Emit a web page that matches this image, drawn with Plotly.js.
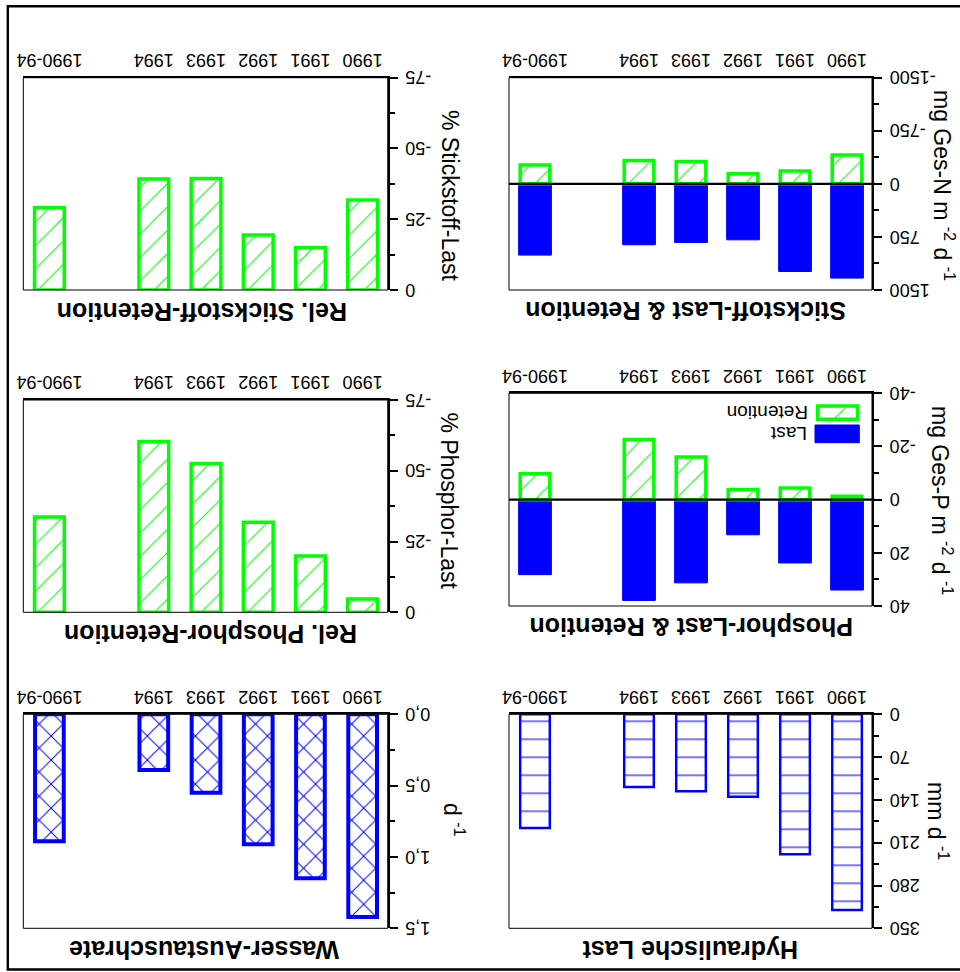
<!DOCTYPE html>
<html><head><meta charset="utf-8">
<script src="https://cdn.plot.ly/plotly-3.0.1.min.js"></script>
<style>
html,body{margin:0;padding:0;background:#fff;overflow:hidden;}
#wrap{width:960px;height:972px;transform:rotate(180deg);transform-origin:50% 50%;}
#chart{width:960px;height:972px;}
</style></head><body>
<div id="wrap"><div id="chart"></div></div>
<script>
// ---------- data ----------
const categories = ['1990','1991','1992','1993','1994','','1990-94'];
const hydraulLast = [320, 229, 135, 126, 119, null, 186];
const wasserRate = [1.42, 1.15, 0.91, 0.55, 0.39, null, 0.89];
const phosphorLast = [34, 23.8, 13.2, 31.3, 37.9, null, 28.2];
const phosphorRet = [-1.3, -4.4, -3.8, -16, -22.6, null, -9.7];
const relPhosphorRet = [-4.7, -19.9, -31.8, -52.6, -60.3, null, -33.7];
const stickstoffLast = [1332, 1238, 791, 829, 861, null, 1007];
const stickstoffRet = [-409, -183, -141, -315, -329, null, -268];
const relStickstoffRet = [-31.8, -14.9, -19.4, -39.4, -39.2, null, -29.1];

const hydTicks = [0, 70, 140, 210, 280, 350];
const hydTickText = ['0', '70', '140', '210', '280', '350'];
const wasTicks = [0, 0.5, 1.0, 1.5];
const wasTickText = ['0,0', '0,5', '1,0', '1,5'];
const pTicks = [-40, -20, 0, 20, 40];
const pTickText = ['-40', '-20', '0', '20', '40'];
const relTicks = [-75, -50, -25, 0];
const relTickText = ['-75', '-50', '-25', '0'];
const nTicks = [-1500, -750, 0, 750, 1500];
const nTickText = ['-1500', '-750', '0', '750', '1500'];

const titles = ['Hydraulische Last', 'Wasser-Austauschrate', 'Phosphor-Last & Retention',
  'Rel. Phosphor-Retention', 'Stickstoff-Last & Retention', 'Rel. Stickstoff-Retention'];
const yTitles = ['mm d <sup>-1</sup>', 'd <sup>-1</sup>', 'mg Ges-P m <sup>-2</sup> d <sup>-1</sup>',
  '% Phosphor-Last', 'mg Ges-N m <sup>-2</sup> d <sup>-1</sup>', '% Stickstoff-Last'];
const legendLabels = ['Last', 'Retention'];

// ---------- layout helpers ----------
const W = 960, H = 972;
const px = u => u / W;
const py = v => 1 - v / H;
const FONT = 'Liberation Sans, Arial, Helvetica, sans-serif';
const BLUE = '#0000ff', GREEN = '#00ff00';
const xpos = categories.map((c, i) => i);
const labelPos = xpos.filter(i => categories[i] !== '');
const labelText = labelPos.map(i => categories[i]);

const col1 = [px(88), px(451)];
const col2 = [px(572.3), px(936.7)];
const row1 = [py(257.7), py(43.7)];
const row2L = [py(578.7), py(366)];
const row2R = [py(572), py(359.7)];
const row3 = [py(894.3), py(682)];

function xa(dom, anchor) {
  return {domain: dom, anchor: anchor, range: [-0.48, 6.5], tickmode: 'array',
    tickvals: labelPos, ticktext: labelText, ticks: '', showline: true, linewidth: 2,
    linecolor: '#000', showgrid: false, zeroline: false, ticklabelstandoff: 0,
    tickfont: {size: 18, color: '#000', family: FONT}, fixedrange: true};
}
function ya(dom, anchor, range, tv, tt, minorDt) {
  return {domain: dom, anchor: anchor, range: range, tickmode: 'array',
    tickvals: tv, ticktext: tt, ticks: 'outside', ticklen: 8, tickwidth: 2, tickcolor: '#000',
    showline: true, linewidth: 2, linecolor: '#000', showgrid: false, zeroline: false,
    ticklabelstandoff: 4,
    tickfont: {size: 18, color: '#000', family: FONT}, fixedrange: true,
    minor: {tick0: range[0], dtick: minorDt, ticks: 'outside', ticklen: 5, tickwidth: 2,
      tickcolor: '#000', showgrid: false}};
}

function hatchBar(x, y, xr, yr, color, shape, size, sol, lw, width) {
  return {type: 'bar', x: x, y: y, xaxis: xr, yaxis: yr, width: width, showlegend: false,
    marker: {color: '#ffffff', line: {color: color, width: lw},
      pattern: {shape: shape, fgcolor: color, bgcolor: '#ffffff', size: size, solidity: sol}},
    hoverinfo: 'skip'};
}
function solidBar(x, y, xr, yr, color, width) {
  return {type: 'bar', x: x, y: y, xaxis: xr, yaxis: yr, width: width, showlegend: false,
    marker: {color: color, line: {color: color, width: 1}}, hoverinfo: 'skip'};
}

const traces = [
  hatchBar(xpos, hydraulLast, 'x', 'y', BLUE, '-', 18, 0.06, 2.5, 0.57),
  hatchBar(xpos, wasserRate, 'x2', 'y2', BLUE, 'x', 17, 0.11, 4, 0.55),
  Object.assign(solidBar(xpos, phosphorLast, 'x3', 'y3', BLUE, 0.63), {name: legendLabels[0]}),
  Object.assign(hatchBar(xpos, phosphorRet, 'x3', 'y3', GREEN, '/', 16.5, 0.065, 3.5, 0.57), {name: legendLabels[1]}),
  hatchBar(xpos, relPhosphorRet, 'x4', 'y4', GREEN, '/', 16.5, 0.065, 3.5, 0.57),
  Object.assign(solidBar(xpos, stickstoffLast, 'x5', 'y5', BLUE, 0.63), {name: legendLabels[0]}),
  Object.assign(hatchBar(xpos, stickstoffRet, 'x5', 'y5', GREEN, '/', 16.5, 0.065, 3.5, 0.57), {name: legendLabels[1]}),
  hatchBar(xpos, relStickstoffRet, 'x6', 'y6', GREEN, '/', 16.5, 0.065, 3.5, 0.57)
];

const shapes = [];
['', '2', '3', '4', '5', '6'].forEach(s => {
  shapes.push({type: 'rect', xref: 'x' + s + ' domain', yref: 'y' + s + ' domain',
    x0: 0, x1: 1, y0: 0, y1: 1, line: {color: '#000', width: 1}, layer: 'above'});
});
// zero lines
shapes.push({type: 'line', xref: 'x3 domain', yref: 'y3', x0: -0.008, x1: 1, y0: 0, y1: 0, line: {color: '#000', width: 2.2}});
shapes.push({type: 'line', xref: 'x5 domain', yref: 'y5', x0: -0.008, x1: 1, y0: 0, y1: 0, line: {color: '#000', width: 2.2}});
// legend swatches (Phosphor panel)
shapes.push({type: 'rect', xref: 'paper', yref: 'paper', x0: px(100.7), x1: px(145), y0: py(547), y1: py(529.3),
  fillcolor: BLUE, line: {color: BLUE, width: 1}});
shapes.push({type: 'rect', xref: 'paper', yref: 'paper', x0: px(102.5), x1: px(142.5), y0: py(566), y1: py(552.8),
  fillcolor: '#fff', line: {color: GREEN, width: 3.5}});
shapes.push({type: 'line', xref: 'paper', yref: 'paper', x0: px(113), x1: px(126), y0: py(565.5), y1: py(553.5),
  line: {color: GREEN, width: 1}});
// outer frame
shapes.push({type: 'rect', xref: 'paper', yref: 'paper', x0: px(-10), x1: px(952.2), y0: py(965.8), y1: py(2.5),
  line: {color: '#000', width: 2.4}});

const annotations = [];
const titlePos = [[269.5, 21.5], [756, 22], [269, 344.5], [749, 338], [274, 661], [758, 659.5]];
titles.forEach((t, i) => {
  annotations.push({text: '<b>' + t + '</b>', xref: 'paper', yref: 'paper', x: px(titlePos[i][0]), y: py(titlePos[i][1]),
    xanchor: 'center', yanchor: 'middle', showarrow: false, font: {size: 25, color: '#000', family: FONT}});
});
const yTitlePos = [[22, 151], [506, 152], [18, 472], [511.5, 471], [16, 787], [510, 777]];
yTitles.forEach((t, i) => {
  annotations.push({text: t, xref: 'paper', yref: 'paper', x: px(yTitlePos[i][0]), y: py(yTitlePos[i][1]),
    xanchor: 'center', yanchor: 'middle', textangle: -90, showarrow: false,
    font: {size: 23, color: '#000', family: FONT}});
});
annotations.push({text: legendLabels[0], xref: 'paper', yref: 'paper', x: px(151), y: py(538), xanchor: 'left', yanchor: 'middle',
  showarrow: false, font: {size: 19, color: '#000', family: FONT}});
annotations.push({text: legendLabels[1], xref: 'paper', yref: 'paper', x: px(149.5), y: py(559), xanchor: 'left', yanchor: 'middle',
  showarrow: false, font: {size: 19, color: '#000', family: FONT}});

const layout = {
  width: W, height: H, margin: {l: 0, r: 0, t: 0, b: 0}, paper_bgcolor: '#fff', plot_bgcolor: 'rgba(0,0,0,0)',
  barmode: 'overlay', showlegend: false, hovermode: false, font: {family: FONT, color: '#000'},
  xaxis: xa(col1, 'y'), yaxis: ya(row1, 'x', [0, 350], hydTicks, hydTickText, 35),
  xaxis2: xa(col2, 'y2'), yaxis2: ya(row1, 'x2', [0, 1.5], wasTicks, wasTickText, 0.25),
  xaxis3: xa(col1, 'y3'), yaxis3: ya(row2L, 'x3', [-40, 40], pTicks, pTickText, 10),
  xaxis4: xa(col2, 'y4'), yaxis4: ya(row2R, 'x4', [-75, 0], relTicks, relTickText, 12.5),
  xaxis5: xa(col1, 'y5'), yaxis5: ya(row3, 'x5', [-1500, 1500], nTicks, nTickText, 375),
  xaxis6: xa(col2, 'y6'), yaxis6: ya(row3, 'x6', [-75, 0], relTicks, relTickText, 12.5),
  shapes: shapes, annotations: annotations
};
Plotly.newPlot('chart', traces, layout, {displayModeBar: false, staticPlot: true});
</script></body></html>
